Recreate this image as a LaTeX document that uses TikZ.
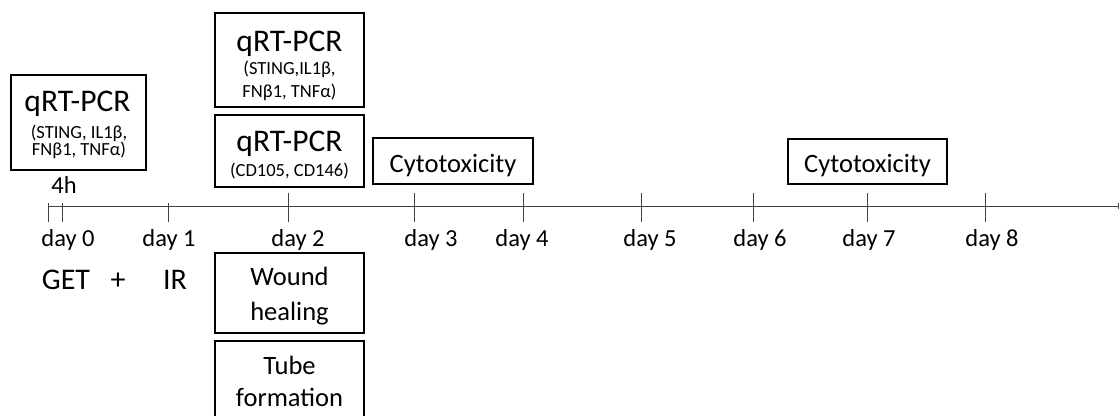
\documentclass[tikz,border=0pt]{standalone}
\usepackage{fontspec}
\setmainfont{Carlito}
\usetikzlibrary{arrows.meta,positioning}
\tikzset{
  box/.style={draw, line width=1.3pt, inner sep=0pt},
  bigtxt/.style={font=\fontsize{31.5}{35}\selectfont, anchor=base, inner sep=0pt},
  gettxt/.style={font=\fontsize{30}{34}\selectfont, anchor=base, inner sep=0pt},
  midtxt/.style={font=\fontsize{26.5}{30}\selectfont, anchor=base, inner sep=0pt},
  daytxt/.style={font=\fontsize{24.5}{28}\selectfont, anchor=base, inner sep=0pt},
  smalltxt/.style={font=\fontsize{18.5}{20}\selectfont, anchor=base, inner sep=0pt},
  axisline/.style={line width=0.8pt, draw=black!75, -{Latex[length=7pt,width=6pt]}},
  tickline/.style={line width=0.8pt, draw=black!75}
}

\begin{document}
\begin{tikzpicture}[x=1pt,y=-1pt]
\useasboundingbox (0,0) rectangle (1119,415);

% time axis
\coordinate (t0) at (48,206);
\coordinate (tend) at (1125,206);
\draw[axisline] (t0) -- (tend);

% ticks: x / top end
\foreach \x/\top [count=\i] in {48/203,62/203,168/203,288/193,414/193,523/193,641/193,753/193,867/193,985/193}{
  \coordinate (k\i) at (\x,222);
  \draw[tickline] (k\i) -- (\x,\top);
}

% day labels
\foreach \x/\d in {68/0,169/1,298/2,431/3,522/4,650/5,760/6,869/7,992/8}{
  \node[daytxt] (day\d) at (\x,246) {day \d};
}
\node[daytxt] (h4) at (64,193) {4h};

% treatment
\node[gettxt] (get) at (66,289) {GET};
\node[gettxt] (plus) at (118,289) {+};
\node[gettxt] (ir) at (175,289) {IR};

% qRT-PCR at 4h
\node[box, minimum width=135pt, minimum height=95pt] (pcr0) at (78.5,122.5) {};
\node[bigtxt] (pcr0t) at (77.5,111) {qRT-PCR};
\node[smalltxt] (pcr0a) at (79,138) {(STING, IL1β,};
\node[smalltxt] (pcr0b) at (79,155) {FNβ1, TNFα)};

% day 2 assays
\node[box, minimum width=149pt, minimum height=94pt] (pcr1) at (289.5,60) {};
\node[bigtxt] (pcr1t) at (289.5,51) {qRT-PCR};
\node[smalltxt] (pcr1a) at (289.5,74) {(STING,IL1β,};
\node[smalltxt] (pcr1b) at (289.5,97) {FNβ1, TNFα)};

\node[box, minimum width=149pt, minimum height=72pt] (pcr2) at (289.5,151) {};
\node[bigtxt] (pcr2t) at (289.5,151) {qRT-PCR};
\node[smalltxt] (pcr2a) at (289.5,176) {(CD105, CD146)};

\node[box, minimum width=149pt, minimum height=80pt] (wound) at (289.5,293) {};
\node[midtxt] (wounda) at (289.5,285) {Wound};
\node[midtxt] (woundb) at (289.5,320) {healing};

\node[box, minimum width=149pt, minimum height=80pt] (tube) at (289.5,381) {};
\node[midtxt] (tubea) at (289.5,374) {Tube};
\node[midtxt] (tubeb) at (289.5,406) {formation};

% cytotoxicity
\node[box, minimum width=160pt, minimum height=46pt] (cyto1) at (453,161) {};
\node[midtxt] (cyto1t) at (453,172) {Cytotoxicity};
\node[box, minimum width=159pt, minimum height=45pt] (cyto2) at (867.5,161.5) {};
\node[midtxt] (cyto2t) at (867.5,172) {Cytotoxicity};
\end{tikzpicture}
\end{document}
